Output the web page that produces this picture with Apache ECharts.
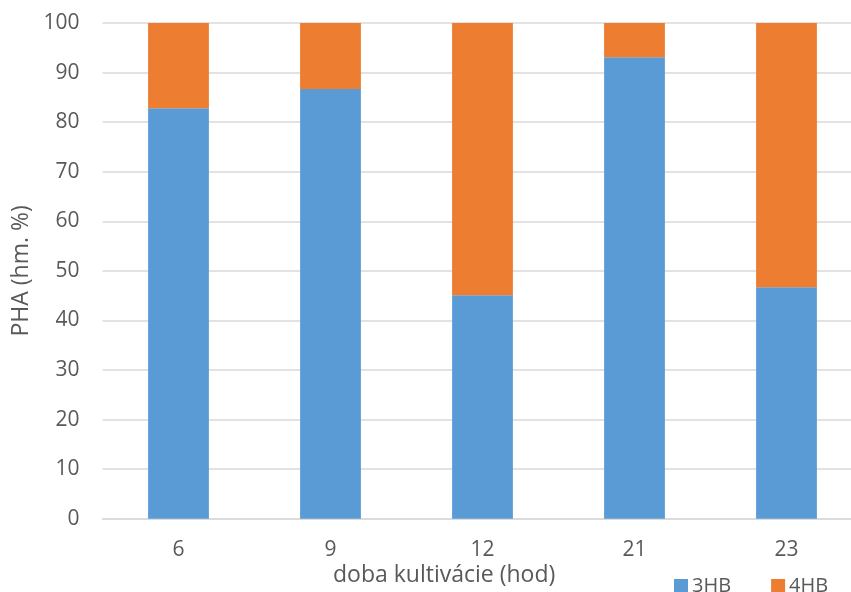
<!DOCTYPE html>
<html><head><meta charset="utf-8">
<script src="https://cdn.jsdelivr.net/npm/echarts@6/dist/echarts.min.js"></script>
<style>html,body{margin:0;padding:0;background:#fff}#c{width:851px;height:592px}</style>
</head><body><div id="c"></div>
<script>
const categories = ['6', '9', '12', '21', '23'];
const series3HB = [82.8, 86.7, 45.1, 93.1, 46.7];
const series4HB = [17.2, 13.3, 54.9, 6.9, 53.3];
const yTicks = {min: 0, max: 100, interval: 10};
const FONT = 'Open Sans';
const TXT = '#595959';
const chart = echarts.init(document.getElementById('c'));
chart.setOption({
  animation: false,
  textStyle: {fontFamily: FONT},
  grid: {left: 102.5, width: 760, top: 23, height: 495.7, containLabel: false, outerBoundsMode: 'none'},
  legend: {
    left: 674, top: 576, padding: 0, itemWidth: 14, itemHeight: 14, itemGap: 40,
    icon: 'rect',
    textStyle: {fontFamily: FONT, fontSize: 20, color: TXT, padding: [0,0,0,-1]},
    data: ['3HB', '4HB']
  },
  xAxis: {
    type: 'category', data: categories,
    axisLine: {lineStyle: {color: '#d9d9d9', width: 1.5}},
    axisTick: {show: false},
    axisLabel: {fontFamily: FONT, fontSize: 21, color: TXT, margin: 21}
  },
  yAxis: {
    type: 'value', min: yTicks.min, max: yTicks.max, interval: yTicks.interval,
    name: 'PHA (hm. %)', nameLocation: 'middle', nameGap: 66, nameRotate: 90,
    nameTextStyle: {fontFamily: FONT, fontSize: 23, color: TXT},
    axisLine: {show: false}, axisTick: {show: false},
    axisLabel: {fontFamily: FONT, fontSize: 21, color: TXT, margin: 23},
    splitLine: {lineStyle: {color: '#d9d9d9', width: 1.5}}
  },
  graphic: [{
    type: 'text', left: 333, top: 564,
    style: {text: 'doba kultivácie (hod)', font: '23px "Open Sans"', fill: TXT}
  }],
  series: [
    {name: '3HB', type: 'bar', stack: 'a', data: series3HB, barWidth: '40%',
     itemStyle: {color: '#5B9BD5'}},
    {name: '4HB', type: 'bar', stack: 'a', data: series4HB, barWidth: '40%',
     itemStyle: {color: '#ED7D31'}}
  ]
});
</script></body></html>
